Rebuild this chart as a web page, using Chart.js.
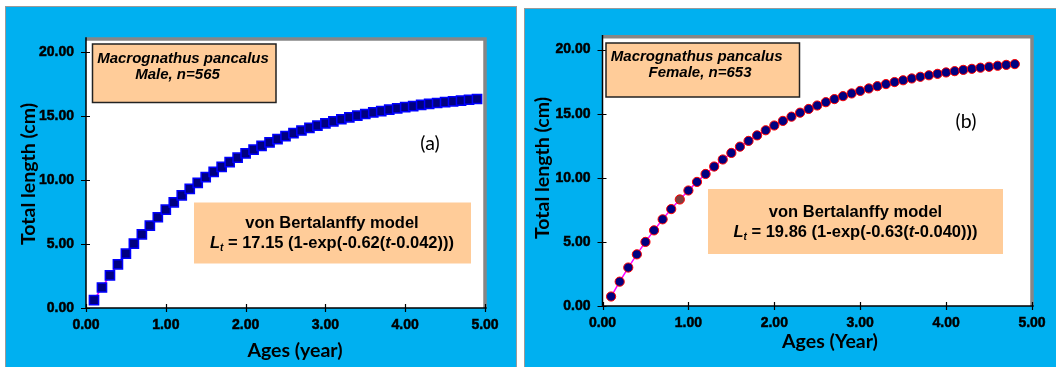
<!DOCTYPE html>
<html>
<head>
<meta charset="utf-8">
<script src="https://cdn.jsdelivr.net/npm/chart.js@4.4.0/dist/chart.umd.min.js"></script>
<style>
  html, body { margin: 0; padding: 0; background: #ffffff; }
  body { width: 1056px; height: 367px; position: relative; overflow: hidden; }
  .panel { position: absolute; background: #00B0F0; border: 1px solid #9a9a9a; box-sizing: border-box; }
  .panel canvas { position: absolute; left: 0; top: 0; }
  #panelA { left: 5px; top: 6px; width: 512px; height: 362px; }
  #panelB { left: 524px; top: 8px; width: 534px; height: 360px; }
</style>
</head>
<body>
<div class="panel" id="panelA"><canvas id="chartA" width="510" height="360" style="width:510px;height:360px"></canvas></div>
<div class="panel" id="panelB"><canvas id="chartB" width="531" height="358" style="width:531px;height:358px"></canvas></div>

<script>
// Ages (years) and fitted total lengths (cm), Macrognathus pancalus
const ageMale = [0.1, 0.2, 0.3, 0.4, 0.5, 0.6, 0.7, 0.8, 0.9, 1.0,
                 1.1, 1.2, 1.3, 1.4, 1.5, 1.6, 1.7, 1.8, 1.9, 2.0,
                 2.1, 2.2, 2.3, 2.4, 2.5, 2.6, 2.7, 2.8, 2.9, 3.0,
                 3.1, 3.2, 3.3, 3.4, 3.5, 3.6, 3.7, 3.8, 3.9, 4.0,
                 4.1, 4.2, 4.3, 4.4, 4.5, 4.6, 4.7, 4.8, 4.9];
const lengthMale = [0.61, 1.60, 2.54, 3.41, 4.24, 5.02, 5.75, 6.43, 7.08, 7.68,
                    8.25, 8.79, 9.29, 9.76, 10.21, 10.62, 11.01, 11.38, 11.73, 12.06,
                    12.36, 12.65, 12.92, 13.18, 13.41, 13.64, 13.85, 14.05, 14.23, 14.41,
                    14.57, 14.73, 14.88, 15.01, 15.14, 15.26, 15.37, 15.48, 15.58, 15.68,
                    15.76, 15.85, 15.93, 16.00, 16.07, 16.13, 16.19, 16.25, 16.31];

const ageFemale = [0.1, 0.2, 0.3, 0.4, 0.5, 0.6, 0.7, 0.8, 0.9, 1.0,
                   1.1, 1.2, 1.3, 1.4, 1.5, 1.6, 1.7, 1.8, 1.9, 2.0,
                   2.1, 2.2, 2.3, 2.4, 2.5, 2.6, 2.7, 2.8, 2.9, 3.0,
                   3.1, 3.2, 3.3, 3.4, 3.5, 3.6, 3.7, 3.8, 3.9, 4.0,
                   4.1, 4.2, 4.3, 4.4, 4.5, 4.6, 4.7, 4.8];
const lengthFemale = [0.74, 1.90, 3.00, 4.03, 5.00, 5.90, 6.76, 7.56, 8.31, 9.01,
                      9.68, 10.30, 10.88, 11.43, 11.94, 12.43, 12.88, 13.31, 13.71, 14.08,
                      14.44, 14.77, 15.08, 15.37, 15.64, 15.90, 16.14, 16.37, 16.58, 16.78,
                      16.97, 17.15, 17.31, 17.47, 17.61, 17.75, 17.88, 18.00, 18.11, 18.22,
                      18.32, 18.42, 18.50, 18.59, 18.66, 18.74, 18.81, 18.87];

// Axis tick labels
const ageTicks = [0, 1, 2, 3, 4, 5];
const lengthTicks = [0, 5, 10, 15, 20];

// Model parameters printed in the boxes
const modelMale = { Linf: '17.15', K: '0.62', t0: '0.042' };
const modelFemale = { Linf: '19.86', K: '0.63', t0: '0.040' };

const TICK_FONT = { family: "'Liberation Sans', Arial, sans-serif", size: 14, weight: 'bold' };
const TITLE_FAMILY = "Lato, 'Liberation Sans', sans-serif";
const BOX_FAMILY = "'Liberation Sans', Arial, sans-serif";

function toPoints(xs, ys) { return xs.map((x, i) => ({ x: x, y: ys[i] })); }

function drawFormula(ctx, cx, cy, m, size) {
  const bold = 'bold ' + size + 'px ' + BOX_FAMILY;
  const boldIt = 'italic bold ' + size + 'px ' + BOX_FAMILY;
  const sub = 'italic bold ' + Math.round(size * 0.62) + 'px ' + BOX_FAMILY;
  const parts = [
    { t: 'L', f: boldIt, dy: 0 },
    { t: 't', f: sub, dy: size * 0.32 },
    { t: ' = ' + m.Linf + ' (1-exp(-' + m.K + '(', f: bold, dy: 0 },
    { t: 't', f: boldIt, dy: 0 },
    { t: '-' + m.t0 + ')))', f: bold, dy: 0 }
  ];
  let total = 0;
  parts.forEach(p => { ctx.font = p.f; p.w = ctx.measureText(p.t).width; total += p.w; });
  let x = cx - total / 2;
  ctx.textAlign = 'left';
  ctx.textBaseline = 'middle';
  parts.forEach(p => { ctx.font = p.f; ctx.fillText(p.t, x, cy + p.dy); x += p.w; });
}

const decorPlugin = {
  id: 'decor',
  beforeDraw(chart) {
    const { ctx, chartArea: a } = chart;
    ctx.save();
    ctx.fillStyle = '#ffffff';
    ctx.fillRect(a.left, a.top, a.right - a.left, a.bottom - a.top);
    ctx.restore();
  },
  beforeDatasetsDraw(chart) {
    const { ctx, chartArea: a, scales } = chart;
    ctx.save();
    // grey frame on the top and right of the plot area
    ctx.strokeStyle = '#868686';
    ctx.lineWidth = 3.5;
    ctx.beginPath();
    ctx.moveTo(a.left, a.top);
    ctx.lineTo(a.right, a.top);
    ctx.lineTo(a.right, a.bottom);
    ctx.stroke();
    // axis lines
    ctx.strokeStyle = '#000000';
    ctx.lineWidth = 1.5;
    ctx.beginPath();
    ctx.moveTo(a.left, a.top - 1.75);
    ctx.lineTo(a.left, a.bottom);
    ctx.lineTo(a.right + 1.75, a.bottom);
    ctx.stroke();
    // cross tick marks
    ctx.lineWidth = 1.2;
    ctx.beginPath();
    scales.x.ticks.forEach(t => {
      const px = Math.round(scales.x.getPixelForValue(t.value)) + 0.5;
      ctx.moveTo(px, a.bottom - 4);
      ctx.lineTo(px, a.bottom + 4);
    });
    scales.y.ticks.forEach(t => {
      const py = Math.round(scales.y.getPixelForValue(t.value)) + 0.5;
      ctx.moveTo(a.left - 5, py);
      ctx.lineTo(a.left + 4, py);
    });
    ctx.stroke();
    ctx.restore();
  },
  afterDraw(chart, args, o) {
    const ctx = chart.ctx;
    ctx.save();
    ctx.fillStyle = '#000000';

    // axis titles
    ctx.font = 'bold ' + o.titleSize + 'px ' + TITLE_FAMILY;
    ctx.textAlign = 'center';
    ctx.textBaseline = 'middle';
    ctx.fillText(o.xTitle.text, o.xTitle.x, o.xTitle.y);
    ctx.save();
    ctx.translate(o.yTitle.x, o.yTitle.y);
    ctx.rotate(-Math.PI / 2);
    ctx.fillText(o.yTitle.text, 0, 0);
    ctx.restore();

    // panel tag
    ctx.font = o.titleSize + 'px ' + TITLE_FAMILY;
    ctx.fillText(o.tag.text, o.tag.x, o.tag.y);

    // species box
    const s = o.species;
    ctx.fillStyle = '#FFCC99';
    ctx.fillRect(s.box[0], s.box[1], s.box[2] - s.box[0], s.box[3] - s.box[1]);
    ctx.strokeStyle = '#222222';
    ctx.lineWidth = 1.5;
    ctx.strokeRect(s.box[0], s.box[1], s.box[2] - s.box[0], s.box[3] - s.box[1]);
    ctx.fillStyle = '#000000';
    ctx.font = 'italic bold 15px ' + BOX_FAMILY;
    s.lines.forEach(l => ctx.fillText(l.text, l.x, l.y));

    // model box
    const m = o.model;
    ctx.fillStyle = '#FFCC99';
    ctx.fillRect(m.box[0], m.box[1], m.box[2] - m.box[0], m.box[3] - m.box[1]);
    ctx.fillStyle = '#000000';
    ctx.font = 'bold 16.5px ' + BOX_FAMILY;
    ctx.textAlign = 'center';
    ctx.fillText('von Bertalanffy model', m.cx, m.y1);
    drawFormula(ctx, m.cx, m.y2, m.params, 16.5);
    ctx.restore();
  }
};

function buildChart(id, cfg) {
  const dataset = {
    data: toPoints(cfg.ages, cfg.lengths),
    showLine: true,
    borderColor: '#FF00FF',
    borderWidth: 1.5,
    tension: 0,
    pointStyle: cfg.pointStyle,
    pointRadius: cfg.pointRadius,
    pointBackgroundColor: cfg.pointFill,
    pointBorderColor: cfg.pointEdge,
    pointBorderWidth: cfg.pointEdgeWidth,
    clip: false
  };
  const tickStyle = {
    font: TICK_FONT, color: '#000',
    textStrokeColor: '#000', textStrokeWidth: 0.5,
    callback: v => Number(v).toFixed(2)
  };
  return new Chart(document.getElementById(id), {
    type: 'scatter',
    data: { datasets: [dataset] },
    plugins: [decorPlugin],
    options: {
      responsive: false,
      animation: false,
      devicePixelRatio: 1,
      layout: { padding: cfg.padding },
      plugins: {
        legend: { display: false },
        tooltip: { enabled: false },
        decor: cfg.decor
      },
      scales: {
        x: {
          type: 'linear', min: 0, max: 5,
          afterBuildTicks: sc => { sc.ticks = ageTicks.map(v => ({ value: v })); },
          afterFit: sc => { sc.height = cfg.xAxisHeight; },
          grid: { display: false, drawTicks: false },
          border: { display: false },
          ticks: Object.assign({ padding: 8.5, maxRotation: 0 }, tickStyle)
        },
        y: {
          type: 'linear', min: 0, max: 21,
          afterBuildTicks: sc => { sc.ticks = lengthTicks.map(v => ({ value: v })); },
          afterFit: sc => { sc.width = cfg.yAxisWidth; },
          grid: { display: false, drawTicks: false },
          border: { display: false },
          ticks: Object.assign({ padding: 12 }, tickStyle)
        }
      }
    }
  });
}

// (a) males
buildChart('chartA', {
  ages: ageMale, lengths: lengthMale,
  pointStyle: 'rect', pointRadius: 6.5,
  pointFill: '#000080', pointEdge: '#0000FF', pointEdgeWidth: 1.5,
  padding: { left: 0, top: 31.9, right: 31, bottom: 0 },
  yAxisWidth: 80, xAxisHeight: 59,
  decor: {
    titleSize: 19.5,
    xTitle: { text: 'Ages (year)', x: 289, y: 344 },
    yTitle: { text: 'Total length (cm)', x: 23, y: 167 },
    tag: { text: '(a)', x: 424, y: 137 },
    species: {
      box: [86.5, 37, 270, 95.5],
      lines: [{ text: 'Macrognathus pancalus', x: 177, y: 51.5 },
              { text: 'Male, n=565', x: 171.5, y: 67.5 }]
    },
    model: { box: [188, 195.5, 465, 256.5], cx: 326, y1: 216, y2: 236, params: modelMale }
  }
});

// (b) females
const femaleFill = ageFemale.map(a => a === 0.9 ? '#7F3F3F' : '#000080');
buildChart('chartB', {
  ages: ageFemale, lengths: lengthFemale,
  pointStyle: 'circle', pointRadius: 4.6,
  pointFill: femaleFill, pointEdge: '#FF0000', pointEdgeWidth: 1,
  padding: { left: 0, top: 27.8, right: 24, bottom: 0 },
  yAxisWidth: 77.5, xAxisHeight: 61,
  decor: {
    titleSize: 19.5,
    xTitle: { text: 'Ages (Year)', x: 305, y: 333 },
    yTitle: { text: 'Total length (cm)', x: 18, y: 159 },
    tag: { text: '(b)', x: 441, y: 113 },
    species: {
      box: [81, 34, 274.5, 88],
      lines: [{ text: 'Macrognathus pancalus', x: 171.7, y: 47.5 },
              { text: 'Female, n=653', x: 175, y: 64 }]
    },
    model: { box: [183, 180, 478, 245], cx: 330.5, y1: 203.5, y2: 223, params: modelFemale }
  }
});
</script>
</body>
</html>
